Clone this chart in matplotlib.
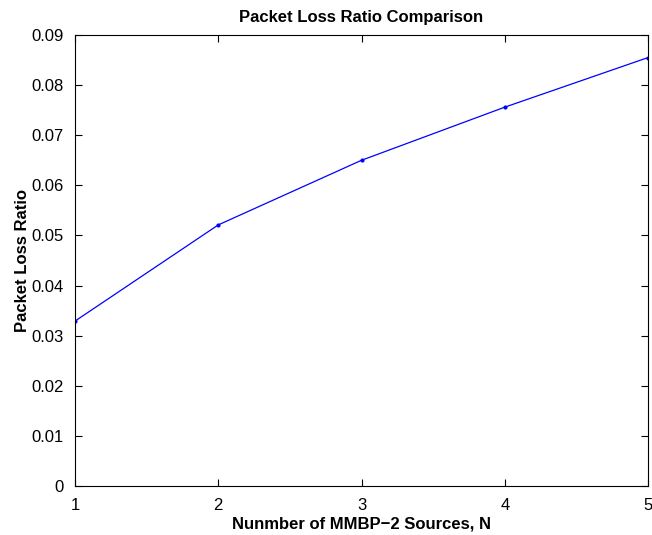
"""Packet loss ratio vs number of MMBP-2 sources (MATLAB-style line plot)."""

import matplotlib
matplotlib.use("Agg")
import matplotlib.pyplot as plt

plt.rcParams["font.family"] = ["Liberation Sans", "DejaVu Sans"]

n_sources = [1, 2, 3, 4, 5]
loss_ratio = [0.0329, 0.0521, 0.0650, 0.0756, 0.0855]

y_ticks = [0, 0.01, 0.02, 0.03, 0.04, 0.05, 0.06, 0.07, 0.08, 0.09]
y_labels = ["0", "0.01", "0.02", "0.03", "0.04", "0.05", "0.06", "0.07", "0.08", "0.09"]

fig = plt.figure(figsize=(6.52, 5.35), dpi=100)
ax = fig.add_axes([0.115, 0.0916, 0.879, 0.843])

ax.plot(n_sources, loss_ratio, color="#0000ff", lw=0.9, marker=".", ms=4)

ax.set_xlim(1, 5)
ax.set_ylim(0, 0.09)
ax.set_xticks(n_sources)
ax.set_yticks(y_ticks)
ax.set_yticklabels(y_labels)
ax.tick_params(direction="in", length=5, labelsize=12, top=True, right=True)
ax.tick_params(axis="x", pad=9)
ax.tick_params(axis="y", pad=8)
for s in ax.spines.values():
    s.set_linewidth(0.8)

ax.set_title("Packet Loss Ratio Comparison", fontsize=12, fontweight="bold", pad=9)
ax.set_xlabel("Nunmber of MMBP\u22122 Sources, N", fontsize=12, fontweight="bold", labelpad=2)
ax.set_ylabel("Packet Loss Ratio", fontsize=12, fontweight="bold", labelpad=1)

fig.savefig("out.png", dpi=100, facecolor="white")
